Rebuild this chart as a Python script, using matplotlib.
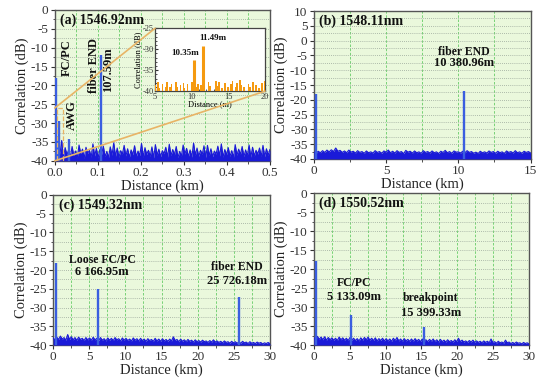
import numpy as np
import matplotlib
matplotlib.use("Agg")
import matplotlib.pyplot as plt
from matplotlib.patches import ConnectionPatch, Rectangle
from matplotlib.ticker import MultipleLocator

plt.rcParams['font.family'] = ['Liberation Serif', 'DejaVu Serif']
plt.rcParams['axes.unicode_minus'] = False

# ---------------- data ----------------
titles = ["(a) 1546.92nm", "(b) 1548.11nm", "(c) 1549.32nm", "(d) 1550.52nm"]

a_peaks_x = [0.002, 0.006, 0.0104, 0.034, 0.10759]
a_peaks_y = [-18.0, -33.5, -29.5, -34.3, -12.0]
a_noise = [
    -36.8, -38.9, -35.9, -38.2, -34.6, -39.1, -36.5, -38.4, -37.1, -39.0,
    -36.2, -38.6, -37.4, -39.2, -35.8, -38.1, -36.9, -39.3, -36.4, -38.0,
    -37.2, -39.0, -35.5, -38.7, -36.7, -39.2, -37.0, -38.3, -36.1, -38.9,
    -37.5, -39.1, -36.3, -38.5, -35.2, -38.8, -36.6, -39.0, -37.3, -38.2,
    -35.9, -38.7, -36.8, -39.1, -37.1, -38.4, -36.0, -38.9, -37.4, -38.6,
    -35.4, -39.0, -36.5, -38.3, -37.2, -38.8, -36.3, -39.2, -35.7, -38.5,
    -36.9, -38.9, -37.3, -38.1, -36.4, -39.0, -35.6, -38.6, -37.0, -38.4,
    -36.2, -39.1, -37.5, -38.7, -35.8, -38.2, -36.7, -38.9, -37.1, -39.0,
    -35.3, -38.5, -36.6, -38.8, -37.2, -38.3, -36.0, -39.1, -35.9, -38.6,
    -36.8, -38.9, -37.4, -38.2, -36.1, -38.7, -35.5, -39.0, -37.0, -38.4,
    -36.5, -38.8, -37.3, -39.1, -35.7, -38.5, -36.9, -38.3, -36.2, -38.9,
    -37.1, -38.6, -35.8, -39.0, -36.4, -38.7, -37.2, -38.2, -36.6, -38.8,
    -35.9, -38.9, -36.8, -38.5, -37.0,
]

b_peaks_x = [0.12, 10.38096]
b_peaks_y = [-18.0, -17.0]
b_noise = [
    -37.6, -38.1, -37.4, -37.9, -37.2, -37.8, -37.0, -37.6, -36.9, -37.5,
    -36.3, -37.4, -37.1, -37.8, -37.3, -37.9, -37.0, -37.7, -37.4, -38.0,
    -37.2, -37.8, -37.5, -38.1, -37.3, -37.9, -37.6, -38.0, -37.2, -37.8,
    -37.5, -38.1, -37.3, -37.7, -37.0, -37.9, -37.4, -38.0, -37.2, -37.8,
    -37.5, -38.2, -37.1, -37.7, -37.4, -38.0, -37.3, -37.9, -37.6, -38.1,
    -37.2, -37.8, -37.5, -38.0, -37.3, -37.9, -37.6, -38.2, -37.4, -37.8,
    -37.1, -37.9, -37.5, -38.1, -37.3, -37.7, -37.6, -38.0, -37.4, -37.9,
    -37.2, -37.8, -37.5, -38.1, -37.7, -38.2, -37.4, -37.9, -37.6, -38.0,
    -37.3, -37.8, -37.5, -38.1, -37.4, -37.9, -37.6, -38.2, -37.3, -37.8,
    -37.5, -38.0, -37.2, -37.9, -37.6, -38.1, -37.4, -37.8, -37.5, -38.0,
]

c_peaks_x = [0.35, 6.16695, 25.72618]
c_peaks_y = [-18.0, -25.0, -27.3]
c_noise = [
    -38.1, -38.6, -37.9, -38.5, -37.6, -38.4, -38.0, -38.7, -37.2, -38.5,
    -37.8, -38.6, -38.0, -38.7, -37.9, -38.5, -38.2, -38.8, -38.0, -38.6,
    -38.1, -38.7, -37.9, -38.6, -38.2, -38.8, -38.0, -38.7, -38.3, -38.9,
    -38.1, -38.7, -38.2, -38.8, -38.0, -38.6, -38.3, -38.9, -38.1, -38.7,
    -38.2, -38.8, -38.4, -38.9, -38.1, -38.7, -38.3, -38.9, -38.2, -38.8,
    -38.4, -39.0, -38.3, -38.8, -38.5, -39.0, -38.2, -38.9, -38.4, -39.0,
    -38.3, -38.9, -38.5, -39.0, -38.4, -38.9, -37.8, -38.8, -38.5, -39.1,
    -38.4, -39.0, -38.6, -39.1, -38.5, -39.0, -38.7, -39.2, -38.6, -39.1,
    -38.8, -39.2, -38.7, -39.1, -38.9, -39.3, -38.8, -39.2, -38.6, -39.2,
    -38.9, -39.3, -39.0, -39.4, -38.9, -39.3, -39.1, -39.5, -39.0, -39.4,
    -39.1, -39.5, -39.2, -39.5, -39.0, -39.4, -39.2, -39.6, -39.1, -39.5,
    -39.3, -39.6, -39.2, -39.5, -39.3, -39.7, -39.4, -39.6, -39.3, -39.6,
]

d_peaks_x = [0.35, 5.13309, 15.39933]
d_peaks_y = [-18.0, -32.0, -35.3]
d_noise = [
    -38.0, -38.6, -37.7, -38.5, -37.9, -38.6, -37.8, -38.7, -38.0, -38.6,
    -38.1, -38.7, -38.2, -38.8, -37.9, -38.6, -38.1, -38.7, -38.2, -38.8,
    -38.0, -38.7, -38.2, -38.8, -38.3, -38.9, -38.1, -38.7, -38.0, -38.6,
    -37.9, -38.7, -38.2, -38.8, -38.1, -38.9, -38.3, -38.8, -38.2, -38.9,
    -38.3, -38.9, -38.4, -39.0, -38.2, -38.8, -38.0, -38.9, -38.4, -39.0,
    -38.3, -38.9, -38.5, -39.0, -38.4, -39.0, -38.3, -38.9, -38.5, -39.1,
    -38.4, -39.0, -38.6, -39.1, -38.5, -39.0, -38.4, -39.1, -38.6, -39.2,
    -38.5, -39.1, -38.7, -39.2, -38.6, -39.1, -38.8, -39.2, -38.6, -39.1,
    -38.2, -39.1, -38.7, -39.2, -38.9, -39.3, -38.8, -39.2, -38.7, -39.3,
    -38.9, -39.3, -39.0, -39.4, -38.9, -39.3, -39.0, -39.4, -38.4, -39.3,
    -39.1, -39.5, -39.0, -39.4, -39.2, -39.5, -38.7, -39.4, -39.2, -39.6,
    -39.3, -39.6, -39.2, -39.5, -39.4, -39.7, -39.3, -39.6, -39.4, -39.7,
]

inset_peaks_x = [10.35, 11.49]
inset_peaks_y = [-32.5, -29.3]
inset_noise = [
    -38.5, -40, -37.8, -39.2, -40, -38.2, -40, -38.9, -37.9, -40,
    -39.0, -38.3, -40, -40, -37.7, -39.1, -40, -38.6, -40, -38.0,
    -39.3, -40, -38.4, -40, -40, -37.8, -38.9, -40, -39.0, -38.2,
    -40, -38.6, -40, -39.4, -40, -40, -37.9, -38.7, -40, -40,
    -40, -37.6, -38.8, -37.9, -40, -39.2, -40, -38.1, -40, -39.0,
    -40, -38.4, -37.6, -40, -39.1, -38.0, -40, -37.3, -38.6, -40,
    -38.9, -40, -40, -38.3, -39.0, -40, -37.7, -40, -38.5, -40,
    -39.2, -40, -38.1, -40, -37.5,
]

# ---------------- styling ----------------
BLUE = '#1a1ad8'
PEAK = '#3a5ee0'
ORANGE = '#f59a10'
LINK = '#e8b466'
BG = '#eaf8dc'

fig = plt.figure(figsize=(5.42, 3.83), dpi=100)

positions = [
    [0.101, 0.580, 0.397, 0.394],
    [0.579, 0.585, 0.400, 0.386],
    [0.098, 0.099, 0.400, 0.392],
    [0.579, 0.099, 0.397, 0.397],
]
xlims = [(0, 0.5), (0, 15), (0, 30), (0, 30)]
ylims = [(-40, 0), (-40, 10), (-40, 0), (-40, 0)]
xmaj = [0.1, 5, 5, 5]
noises = [a_noise, b_noise, c_noise, d_noise]
peaks = [(a_peaks_x, a_peaks_y), (b_peaks_x, b_peaks_y),
         (c_peaks_x, c_peaks_y), (d_peaks_x, d_peaks_y)]

axes = []
for i in range(4):
    ax = fig.add_axes(positions[i])
    axes.append(ax)
    ax.set_facecolor(BG)
    x0, x1 = xlims[i]
    xs = np.linspace(x0, x1, len(noises[i]))
    ax.fill_between(xs, -40, noises[i], color=BLUE, lw=0, zorder=3)
    ax.plot(xs, noises[i], color=BLUE, lw=0.8, zorder=3)
    px, py = peaks[i]
    ax.vlines(px, -40, py, color=PEAK, lw=1.7, zorder=4)
    ax.set_xlim(*xlims[i])
    ax.set_ylim(*ylims[i])
    ax.xaxis.set_major_locator(MultipleLocator(xmaj[i]))
    ax.xaxis.set_minor_locator(MultipleLocator(xmaj[i] / 2))
    ax.yaxis.set_major_locator(MultipleLocator(5))
    ax.yaxis.set_minor_locator(MultipleLocator(2.5))
    ax.grid(which='both', axis='x', color='#66cc66', linestyle=(0, (3, 2)), lw=0.6, zorder=1)
    ax.grid(which='both', axis='y', color='#9aa69a', linestyle=(0, (1, 1.5)), lw=0.6, zorder=1)
    ax.tick_params(which='major', direction='out', length=3, width=0.8,
                   labelsize=9.5, pad=1.5, colors='#333333')
    ax.tick_params(which='minor', direction='out', length=1.8, width=0.6, colors='#333333')
    for s in ax.spines.values():
        s.set_color('#555555')
        s.set_linewidth(1.0)
    ax.set_xlabel('Distance (km)', fontsize=10.5, labelpad=0, color='#222222')
    ax.set_ylabel('Correlation (dB)', fontsize=10.5, labelpad=1, color='#222222')
    ax.text(0.025, 0.975, titles[i], transform=ax.transAxes, ha='left', va='top',
            fontsize=10, fontweight='bold', color='#111111', zorder=6)

axes[0].xaxis.set_major_formatter(matplotlib.ticker.FormatStrFormatter('%.1f'))

txt = dict(fontweight='bold', color='#111111', zorder=6)
a = axes[0]
a.text(0.028, -12.7, 'FC/PC', rotation=90, ha='center', va='center', fontsize=9, **txt)
a.text(0.040, -27.8, 'AWG', rotation=90, ha='center', va='center', fontsize=9, **txt)
a.text(0.091, -14.6, 'fiber END', rotation=90, ha='center', va='center', fontsize=9, **txt)
a.text(0.123, -15.9, '107.59m', rotation=90, ha='center', va='center', fontsize=9, **txt)
a.add_patch(Rectangle((0.005, -40), 0.015, 14, fill=False, ec=LINK, ls='--', lw=0.9, zorder=5))

b = axes[1]
b.text(10.4, -3.9, 'fiber END', ha='center', va='center', fontsize=8.5, **txt)
b.text(10.4, -7.6, '10 380.96m', ha='center', va='center', fontsize=9, **txt)

c = axes[2]
c.text(6.8, -17.3, 'Loose FC/PC', ha='center', va='center', fontsize=8.5, **txt)
c.text(6.8, -20.6, '6 166.95m', ha='center', va='center', fontsize=9, **txt)
c.text(25.4, -19.2, 'fiber END', ha='center', va='center', fontsize=8.5, **txt)
c.text(25.4, -22.9, '25 726.18m', ha='center', va='center', fontsize=9, **txt)

d = axes[3]
d.text(5.6, -23.7, 'FC/PC', ha='center', va='center', fontsize=8.5, **txt)
d.text(5.6, -27.4, '5 133.09m', ha='center', va='center', fontsize=9, **txt)
d.text(16.3, -27.6, 'breakpoint', ha='center', va='center', fontsize=8.5, **txt)
d.text(16.3, -31.6, '15 399.33m', ha='center', va='center', fontsize=9, **txt)

# ---------------- inset ----------------
ins = fig.add_axes([0.286, 0.762, 0.203, 0.164])
ins.set_facecolor('white')
ix = np.linspace(5, 20, len(inset_noise))
ins.fill_between(ix, -40, inset_noise, step='mid', color=ORANGE, lw=0, zorder=3)
ins.vlines(inset_peaks_x, -40, inset_peaks_y, color=ORANGE, lw=2.2, zorder=4)
ins.set_xlim(5, 20)
ins.set_ylim(-40, -25)
ins.xaxis.set_major_locator(MultipleLocator(5))
ins.xaxis.set_minor_locator(MultipleLocator(1))
ins.yaxis.set_major_locator(MultipleLocator(5))
ins.yaxis.set_minor_locator(MultipleLocator(1))
ins.tick_params(which='major', direction='in', length=2.5, labelsize=6, pad=1, colors='#333333')
ins.tick_params(which='minor', direction='in', length=1.2, colors='#333333')
for s in ins.spines.values():
    s.set_color('#444444')
    s.set_linewidth(0.9)
ins.set_xlabel('Distance (m)', fontsize=6, labelpad=0)
ins.set_ylabel('Correlation (dB)', fontsize=6, labelpad=0)
ins.text(9.1, -31.0, '10.35m', ha='center', va='center', fontsize=6.5, **txt)
ins.text(12.9, -27.4, '11.49m', ha='center', va='center', fontsize=6.5, **txt)

for (pa, pb) in [((0, 1), (0.0, -26)), ((1, 0), (0.0, -40))]:
    con = ConnectionPatch(xyA=pa, coordsA=ins.transAxes, xyB=pb, coordsB=a.transData,
                          color=LINK, lw=1.2, zorder=5)
    fig.add_artist(con)

fig.savefig('out.png', dpi=100)
